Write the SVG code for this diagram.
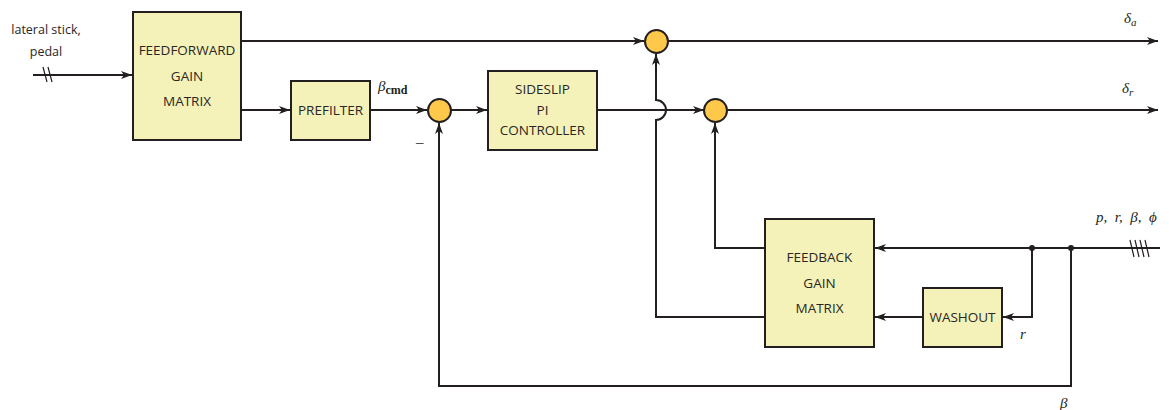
<svg xmlns="http://www.w3.org/2000/svg" width="1169" height="410" viewBox="0 0 1169 410">
<style>
.box{fill:#f4f2b8;stroke:#231f20;stroke-width:2}
.sum{fill:#fec84a;stroke:#231f20;stroke-width:2}
.ln{fill:none;stroke:#231f20;stroke-width:2}
.thin{fill:none;stroke:#231f20;stroke-width:1.2}
.t{font-family:"Open Sans","Liberation Sans",sans-serif;font-size:13.5px;fill:#2a2627;text-anchor:middle}
.s{font-family:"Open Sans","Liberation Sans",sans-serif;font-size:12.5px;fill:#2a2627;text-anchor:middle}
.m{font-family:"Liberation Serif","DejaVu Serif",serif;font-style:italic;font-size:15px;fill:#231f20}
</style>
<defs>
<marker id="ah" markerUnits="userSpaceOnUse" markerWidth="12" markerHeight="8" refX="11" refY="4" orient="auto">
<path d="M0,0 L11,4 L0,8 L3,4 z" fill="#231f20"/>
</marker>
</defs>
<g id="connectors">
<path class="ln" d="M33,75 H132" marker-end="url(#ah)"/>
<path class="thin" d="M43,67 L47,82 M48,67 L52,82"/>
<path class="ln" d="M241,41 H644" marker-end="url(#ah)"/>
<path class="ln" d="M241,110 H290" marker-end="url(#ah)"/>
<path class="ln" d="M370,110 H427" marker-end="url(#ah)"/>
<path class="ln" d="M451,110 H487" marker-end="url(#ah)"/>
<path class="ln" d="M597,110 H704" marker-end="url(#ah)"/>
<path class="ln" d="M668,41 H1158" marker-end="url(#ah)"/>
<path class="ln" d="M727,110 H1158" marker-end="url(#ah)"/>
<path class="ln" d="M1160,248 H875" marker-end="url(#ah)"/>
<path class="thin" d="M1130,240 L1134,257 M1135,240 L1139,257 M1140,240 L1144,257 M1145,240 L1149,257"/>
<path class="ln" d="M1032,248 V317 H1003" marker-end="url(#ah)"/>
<path class="ln" d="M923,317 H875" marker-end="url(#ah)"/>
<path class="ln" d="M765,248 H715 V123" marker-end="url(#ah)"/>
<path class="ln" d="M765,317 H656 V120 A10,10 0 0 0 656,100 V54" marker-end="url(#ah)"/>
<path class="ln" d="M1071,248 V386 H439 V123" marker-end="url(#ah)"/>
<circle cx="1032" cy="248" r="3" fill="#231f20"/>
<circle cx="1071" cy="248" r="3" fill="#231f20"/>
</g>
<g id="feedforward">
<rect class="box" x="133" y="12" width="108" height="128"/>
<text class="t" x="187" y="55">FEEDFORWARD</text>
<text class="t" x="187" y="81">GAIN</text>
<text class="t" x="187" y="106">MATRIX</text>
</g>
<g id="prefilter">
<rect class="box" x="291" y="81" width="79" height="59"/>
<text class="t" x="330.5" y="115">PREFILTER</text>
</g>
<g id="sum1"><circle class="sum" cx="439.5" cy="110.5" r="11.5"/></g>
<g id="controller">
<rect class="box" x="488" y="71" width="109" height="79"/>
<text class="t" x="542.5" y="94">SIDESLIP</text>
<text class="t" x="542.5" y="115">PI</text>
<text class="t" x="542.5" y="135">CONTROLLER</text>
</g>
<g id="sum2"><circle class="sum" cx="656.5" cy="41.5" r="11.5"/></g>
<g id="sum3"><circle class="sum" cx="715.5" cy="110.5" r="11.5"/></g>
<g id="feedback">
<rect class="box" x="765" y="219" width="109" height="128"/>
<text class="t" x="819.5" y="262">FEEDBACK</text>
<text class="t" x="819.5" y="288">GAIN</text>
<text class="t" x="819.5" y="313">MATRIX</text>
</g>
<g id="washout">
<rect class="box" x="923" y="288" width="79" height="59"/>
<text class="t" x="962.5" y="322">WASHOUT</text>
</g>
<g id="labels">
<text class="s" x="46" y="34">lateral stick,</text>
<text class="s" x="46" y="56">pedal</text>
<text class="m" x="378" y="91">β<tspan font-style="normal" font-weight="bold" font-size="12" dy="3">cmd</tspan></text>
<text class="m" x="416" y="147" font-style="normal">–</text>
<text class="m" x="1124" y="23">δ<tspan font-size="11" dy="3">a</tspan></text>
<text class="m" x="1122" y="93">δ<tspan font-size="11" dy="3">r</tspan></text>
<text class="m" x="1096" y="222" xml:space="preserve">p,  r,  β,  ϕ</text>
<text class="m" x="1020" y="339">r</text>
<text class="m" x="1060" y="408">β</text>
</g>
</svg>
